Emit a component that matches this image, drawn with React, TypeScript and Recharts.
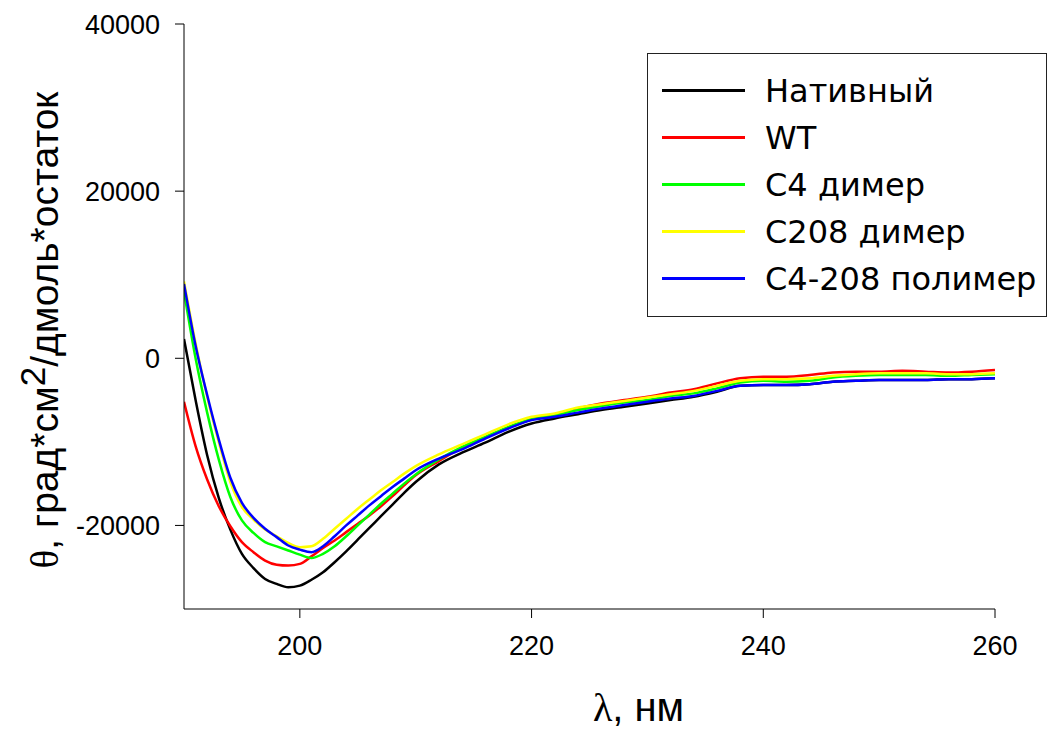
import React from "react";
import { LineChart, Line, XAxis, YAxis } from "recharts";

const wavelengths = [190, 191, 192, 193, 194, 195, 196, 197, 198, 199, 200, 201, 202, 203, 204, 205, 206, 207, 208, 209, 210, 212, 214, 216, 218, 220, 222, 224, 226, 228, 230, 232, 234, 236, 238, 240, 242, 244, 246, 248, 250, 252, 254, 256, 258, 260];

const nativeValues = [2300, -5000, -11600, -16700, -20500, -23400, -25100, -26400, -27000, -27400, -27200, -26500, -25600, -24400, -23100, -21700, -20300, -18900, -17500, -16100, -14800, -12700, -11300, -10100, -8800, -7800, -7200, -6700, -6200, -5800, -5400, -5000, -4600, -4000, -3300, -3200, -3200, -3100, -2800, -2700, -2600, -2600, -2600, -2500, -2500, -2400];
const wtValues = [-5200, -10500, -14500, -17700, -20100, -22000, -23200, -24200, -24700, -24800, -24600, -23700, -22700, -21800, -20800, -19800, -18800, -17700, -16500, -15200, -14000, -12300, -10700, -9500, -8300, -7300, -6800, -6000, -5400, -5000, -4600, -4100, -3700, -3000, -2400, -2200, -2200, -2000, -1700, -1600, -1600, -1500, -1600, -1700, -1600, -1400];
const c4Values = [8000, 0, -6500, -12100, -16600, -19400, -20900, -22000, -22500, -23000, -23500, -23900, -23400, -22500, -21300, -20000, -18700, -17400, -16200, -15000, -13900, -12100, -10600, -9400, -8200, -7300, -6800, -6200, -5700, -5300, -5000, -4500, -4200, -3600, -2900, -2700, -2800, -2700, -2300, -2100, -2000, -2000, -2000, -2100, -2000, -1900];
const c208Values = [9200, 1800, -4600, -10000, -14800, -17800, -19300, -20500, -21300, -22100, -22600, -22500, -21600, -20400, -19200, -18000, -16900, -15800, -14800, -13800, -12900, -11500, -10300, -9100, -7900, -7000, -6600, -5900, -5500, -5100, -4700, -4300, -3900, -3300, -2700, -2500, -2500, -2400, -2100, -1900, -1800, -1800, -1800, -1900, -1900, -1800];
const c4208Values = [8900, 1500, -4400, -9700, -14300, -17300, -19100, -20400, -21400, -22400, -22900, -23200, -22500, -21300, -20000, -18800, -17600, -16500, -15400, -14400, -13400, -12000, -10900, -9600, -8400, -7400, -7000, -6500, -6000, -5600, -5200, -4800, -4500, -3900, -3300, -3200, -3200, -3100, -2800, -2700, -2600, -2600, -2600, -2500, -2500, -2400];

const seriesNames = ["Нативный", "WT", "C4 димер", "C208 димер", "C4-208 полимер"];
const seriesKeys = ["native", "wt", "c4", "c208", "c4208"];
const seriesColors = ["#000000", "#ff0000", "#00ff00", "#ffff00", "#0000ff"];
const seriesValues = [nativeValues, wtValues, c4Values, c208Values, c4208Values];

const xTicks = [200, 220, 240, 260];
const yTicks = [-20000, 0, 20000, 40000];

const data = wavelengths.map((w, i) => {
  const row: Record<string, number> = { w };
  seriesKeys.forEach((k, j) => {
    row[k] = seriesValues[j][i];
  });
  return row;
});

const tickStyle = { fontFamily: "Liberation Sans, Arial, sans-serif", fontSize: 27, fill: "#000" };

const XTitle = (props: any) => {
  const vb = props.viewBox || {};
  const cx = vb.x + vb.width / 2 + 49;
  return (
    <text x={cx} y={721} textAnchor="middle" fontSize={40} fill="#000" fontFamily="Liberation Sans, Arial, sans-serif">
      <tspan fontFamily="Liberation Serif, Times New Roman, serif">λ</tspan>
      <tspan>, нм</tspan>
    </text>
  );
};

const YTitle = () => {
  const cx = 58;
  const cy = 330;
  return (
    <text x={cx} y={cy} transform={`rotate(-90, ${cx}, ${cy})`} textAnchor="middle" fontSize={39} fill="#000" fontFamily="Liberation Sans, Arial, sans-serif">
      <tspan fontFamily="Liberation Serif, Times New Roman, serif">θ</tspan>
      <tspan>, град*см</tspan>
      <tspan dy={-13} fontSize={35}>2</tspan>
      <tspan dy={13}>/дмоль*остаток</tspan>
    </text>
  );
};

export default function App() {
  return (
    <div style={{ position: "absolute", left: 0, top: 0, width: 1057, height: 733, background: "#fff", overflow: "hidden" }}>
      <LineChart width={1057} height={733} data={data} margin={{ top: 24, right: 62, bottom: 64, left: 84 }}>
        <XAxis
          dataKey="w"
          type="number"
          domain={[190, 260]}
          ticks={xTicks}
          allowDataOverflow
          height={60}
          stroke="#000"
          tickSize={9}
          tickMargin={18}
          tick={tickStyle}
          label={<XTitle />}
        />
        <YAxis
          type="number"
          domain={[-30000, 40000]}
          ticks={yTicks}
          allowDataOverflow
          width={100}
          stroke="#000"
          tickSize={9}
          tickMargin={15}
          tick={tickStyle}
          label={<YTitle />}
        />
        {seriesKeys.map((k, j) => (
          <Line
            key={k}
            dataKey={k}
            type="monotone"
            stroke={seriesColors[j]}
            strokeWidth={2.5}
            dot={false}
            isAnimationActive={false}
          />
        ))}
      </LineChart>
      <div
        style={{
          position: "absolute",
          left: 647,
          top: 53,
          width: 400,
          height: 264,
          border: "1.5px solid #222",
          boxSizing: "border-box",
          background: "#fff",
          fontFamily: "DejaVu Sans, Verdana, sans-serif",
          fontSize: 32,
          color: "#000",
        }}
      >
        {seriesNames.map((n, j) => (
          <div key={n} style={{ position: "absolute", left: 0, top: 13 + j * 47, height: 47, display: "flex", alignItems: "center", whiteSpace: "nowrap" }}>
            <div style={{ marginLeft: 14, width: 83, height: 2.5, background: seriesColors[j] }} />
            <span style={{ marginLeft: 20 }}>{n}</span>
          </div>
        ))}
      </div>
    </div>
  );
}
